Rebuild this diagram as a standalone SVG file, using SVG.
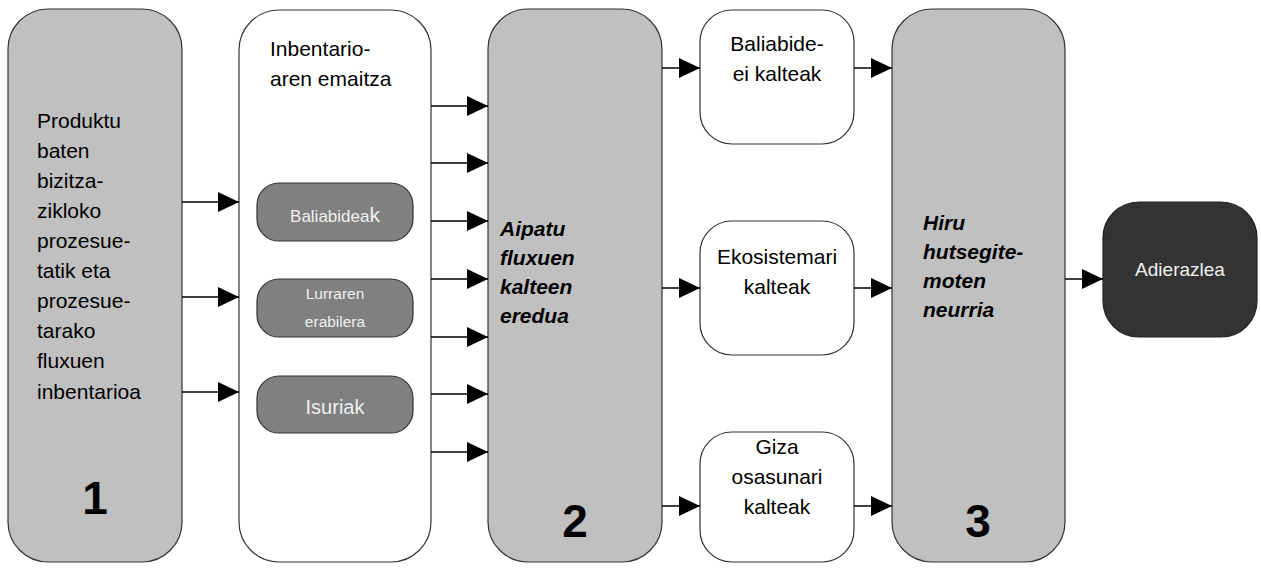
<svg xmlns="http://www.w3.org/2000/svg" width="1261" height="568" viewBox="0 0 1261 568">
<defs>
<marker id="ah" markerUnits="userSpaceOnUse" markerWidth="21" markerHeight="20" refX="21" refY="10" orient="auto">
<path d="M0,0 L21,10 L0,20 Z" fill="#000"/>
</marker>
<style>
.big{fill:#c0c0c0;stroke:#333;stroke-width:1.2}
.wht{fill:#fff;stroke:#333;stroke-width:1.2}
.inner{fill:#808080;stroke:#333;stroke-width:1.2}
.dark{fill:#333;stroke:#222;stroke-width:1.2}
.t{font-family:"Liberation Sans",Arial,sans-serif;font-size:21px;fill:#000}
.bi{font-family:"Liberation Sans",Arial,sans-serif;font-size:21px;font-weight:bold;font-style:italic;fill:#000}
.num{font-family:"Liberation Sans",Arial,sans-serif;font-size:46px;font-weight:bold;fill:#000;text-anchor:middle}
.c{text-anchor:middle}
.w{fill:#f0f0f0}
.conn line{stroke:#000;stroke-width:1.6;marker-end:url(#ah)}
</style>
</defs>
<rect width="1261" height="568" fill="#fff"/>

<g id="n1">
<rect class="big" x="8" y="9" width="174" height="553" rx="40"/>
<text class="t" x="37" y="128">Produktu</text>
<text class="t" x="37" y="158">baten</text>
<text class="t" x="37" y="188">bizitza-</text>
<text class="t" x="37" y="218">zikloko</text>
<text class="t" x="37" y="248">prozesue-</text>
<text class="t" x="37" y="278">tatik eta</text>
<text class="t" x="37" y="308">prozesue-</text>
<text class="t" x="37" y="338">tarako</text>
<text class="t" x="37" y="368">fluxuen</text>
<text class="t" x="37" y="399">inbentarioa</text>
<text class="num" x="95" y="514">1</text>
</g>

<g id="n_inv">
<rect class="wht" x="239" y="10" width="192" height="552" rx="40"/>
<text class="t" x="270" y="56">Inbentario-</text>
<text class="t" x="270" y="86">aren emaitza</text>
</g>

<g id="n_bal">
<rect class="inner" x="257" y="183" width="156" height="58" rx="22"/>
<text class="t w c" x="335" y="222" style="font-size:17px">Baliabidea<tspan style="font-size:21px">k</tspan></text>
</g>

<g id="n_lur">
<rect class="inner" x="257" y="279" width="156" height="58" rx="22"/>
<text class="t w c" x="335" y="299" style="font-size:15.5px">Lurraren</text>
<text class="t w c" x="335" y="327" style="font-size:15.5px">erabilera</text>
</g>

<g id="n_isu">
<rect class="inner" x="257" y="376" width="156" height="57" rx="22"/>
<text class="t w c" x="335" y="414" style="font-size:20px">Isuriak</text>
</g>

<g id="n2">
<rect class="big" x="488" y="9" width="174" height="553" rx="40"/>
<text class="bi" x="500" y="236">Aipatu</text>
<text class="bi" x="500" y="265">fluxuen</text>
<text class="bi" x="500" y="294">kalteen</text>
<text class="bi" x="500" y="323">eredua</text>
<text class="num" x="575" y="537">2</text>
</g>

<g id="n_res">
<rect class="wht" x="700" y="10" width="154" height="134" rx="32"/>
<text class="t c" x="777" y="51">Baliabide-</text>
<text class="t c" x="777" y="81">ei kalteak</text>
</g>

<g id="n_eko">
<rect class="wht" x="700" y="221" width="154" height="134" rx="32"/>
<text class="t c" x="777" y="264">Ekosistemari</text>
<text class="t c" x="777" y="294">kalteak</text>
</g>

<g id="n_giza">
<rect class="wht" x="700" y="432" width="154" height="130" rx="32"/>
<text class="t c" x="777" y="454">Giza</text>
<text class="t c" x="777" y="484">osasunari</text>
<text class="t c" x="777" y="514">kalteak</text>
</g>

<g id="n3">
<rect class="big" x="892" y="9" width="173" height="553" rx="40"/>
<text class="bi" x="923" y="230">Hiru</text>
<text class="bi" x="923" y="259">hutsegite-</text>
<text class="bi" x="923" y="288">moten</text>
<text class="bi" x="923" y="317">neurria</text>
<text class="num" x="978" y="537">3</text>
</g>

<g id="n_adi">
<rect class="dark" x="1103" y="202" width="154" height="135" rx="36"/>
<text class="t w c" x="1180" y="276" style="font-size:19px">Adierazlea</text>
</g>

<g class="conn" id="connectors">
<line x1="182" y1="202" x2="239" y2="202"/>
<line x1="182" y1="297" x2="239" y2="297"/>
<line x1="182" y1="392" x2="239" y2="392"/>
<line x1="431" y1="106" x2="488" y2="106"/>
<line x1="431" y1="163" x2="488" y2="163"/>
<line x1="431" y1="221" x2="488" y2="221"/>
<line x1="431" y1="279" x2="488" y2="279"/>
<line x1="431" y1="337" x2="488" y2="337"/>
<line x1="431" y1="394" x2="488" y2="394"/>
<line x1="431" y1="452" x2="488" y2="452"/>
<line x1="662" y1="68" x2="700" y2="68"/>
<line x1="662" y1="288" x2="700" y2="288"/>
<line x1="662" y1="506" x2="700" y2="506"/>
<line x1="854" y1="68" x2="892" y2="68"/>
<line x1="854" y1="288" x2="892" y2="288"/>
<line x1="854" y1="506" x2="892" y2="506"/>
<line x1="1065" y1="279" x2="1103" y2="279"/>
</g>
</svg>
